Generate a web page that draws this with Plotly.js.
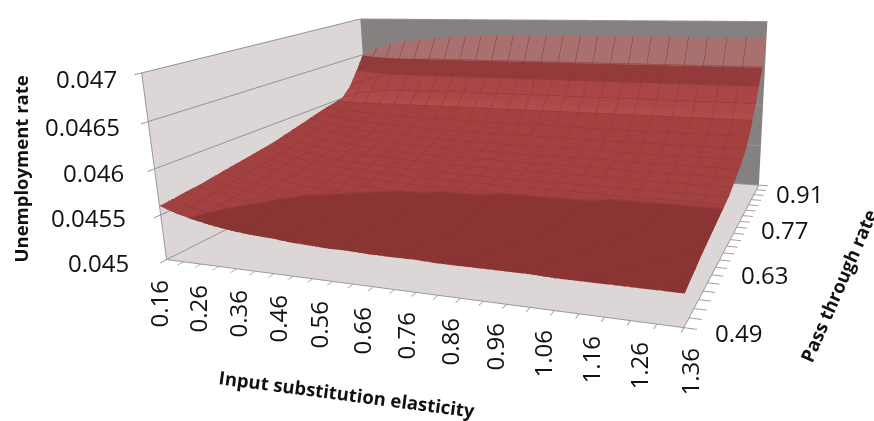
<!DOCTYPE html>
<html><head><meta charset="utf-8">
<script src="https://cdn.plot.ly/plotly-3.0.1.min.js"></script>
<style>html,body{margin:0;padding:0;background:#fff;overflow:hidden;width:874px;height:421px}#c{position:absolute;left:-411px;top:-202.5px;width:1706px;height:822px}</style></head>
<body><div id="c"></div>
<script>
const elasticity=[0.16,0.21,0.26,0.31,0.36,0.41,0.46,0.51,0.56,0.61,0.66,0.71,0.76,0.81,0.86,0.91,0.96,1.01,1.06,1.11,1.16,1.21,1.26,1.31,1.36];
const elasticityLabels=['0.16','0.26','0.36','0.46','0.56','0.66','0.76','0.86','0.96','1.06','1.16','1.26','1.36'];
const passThrough=[0.49,0.51,0.53,0.55,0.57,0.59,0.61,0.63,0.65,0.67,0.69,0.71,0.73,0.75,0.77,0.79,0.81,0.83,0.85,0.87,0.89,0.91];
const passLabels=['0.49','0.63','0.77','0.91'];
const zTicks=[0.045,0.0455,0.046,0.0465,0.047];
const zLabels=['0.045','0.0455','0.046','0.0465','0.047'];
const r049=[.0456,.04553,.04548,.04544,.04541,.04539,.04538,.04536,.04535,.04534,.04534,.04533,.04533,.04533,.04532,.04532,.04532,.04532,.04532,.04531,.04531,.04531,.04531,.04531,.04531];
const r051=[.04561,.04554,.0455,.04546,.04544,.04542,.0454,.04539,.04538,.04537,.04537,.04536,.04536,.04536,.04535,.04535,.04535,.04535,.04535,.04534,.04534,.04534,.04534,.04534,.04534];
const r053=[.04563,.04556,.04552,.04548,.04546,.04544,.04542,.04541,.0454,.04539,.04539,.04538,.04538,.04538,.04537,.04537,.04537,.04537,.04537,.04536,.04536,.04536,.04536,.04536,.04536];
const r055=[.04564,.04558,.04554,.04551,.04548,.04546,.04545,.04544,.04543,.04542,.04542,.04541,.04541,.04541,.0454,.0454,.0454,.0454,.0454,.04539,.04539,.04539,.04539,.04539,.04539];
const r057=[.04566,.0456,.04556,.04553,.0455,.04548,.04547,.04546,.04545,.04544,.04544,.04543,.04543,.04543,.04542,.04542,.04542,.04542,.04542,.04541,.04541,.04541,.04541,.04541,.04541];
const r059=[.04568,.04562,.04558,.04555,.04552,.0455,.04549,.04548,.04547,.04546,.04546,.04545,.04545,.04545,.04544,.04544,.04544,.04544,.04544,.04543,.04543,.04543,.04543,.04543,.04543];
const r061=[.0457,.04564,.0456,.04557,.04554,.04552,.04551,.0455,.04549,.04548,.04548,.04547,.04547,.04547,.04546,.04546,.04546,.04546,.04546,.04545,.04545,.04545,.04545,.04545,.04545];
const r063=[.04572,.04566,.04562,.04559,.04556,.04554,.04553,.04552,.04551,.0455,.0455,.04549,.04549,.04549,.04548,.04548,.04548,.04548,.04548,.04547,.04547,.04547,.04547,.04547,.04547];
const r065=[.04574,.04568,.04564,.04561,.04558,.04556,.04555,.04554,.04553,.04552,.04552,.04551,.04551,.04551,.0455,.0455,.0455,.0455,.0455,.04549,.04549,.04549,.04549,.04549,.04549];
const r067=[.04576,.0457,.04566,.04563,.0456,.04558,.04557,.04556,.04555,.04554,.04554,.04553,.04553,.04553,.04552,.04552,.04552,.04552,.04552,.04551,.04551,.04551,.04551,.04551,.04551];
const r069=[.04578,.04572,.04568,.04565,.04562,.0456,.04559,.04558,.04557,.04556,.04556,.04555,.04555,.04555,.04554,.04554,.04554,.04554,.04554,.04553,.04553,.04553,.04553,.04553,.04553];
const r071=[.04581,.04575,.04571,.04568,.04566,.04564,.04563,.04562,.04561,.0456,.04559,.04559,.04559,.04558,.04558,.04558,.04558,.04558,.04558,.04557,.04557,.04557,.04557,.04557,.04557];
const r073=[.04584,.04578,.04574,.04572,.04569,.04568,.04566,.04565,.04564,.04564,.04563,.04563,.04563,.04562,.04562,.04562,.04562,.04562,.04562,.04561,.04561,.04561,.04561,.04561,.04561];
const r075=[.04587,.04582,.04578,.04575,.04573,.04571,.0457,.04569,.04568,.04568,.04567,.04567,.04567,.04566,.04566,.04566,.04566,.04566,.04566,.04565,.04565,.04565,.04565,.04565,.04565];
const r077=[.0459,.04585,.04582,.04579,.04577,.04576,.04575,.04574,.04573,.04572,.04572,.04572,.04571,.04571,.04571,.04571,.04571,.0457,.0457,.0457,.0457,.0457,.0457,.0457,.0457];
const r079=[.04593,.04589,.04586,.04584,.04583,.04582,.04581,.0458,.04579,.04579,.04579,.04578,.04578,.04578,.04578,.04578,.04577,.04577,.04577,.04577,.04577,.04577,.04577,.04577,.04577];
const r081=[.04596,.04594,.04592,.04591,.0459,.04589,.04588,.04588,.04588,.04587,.04587,.04587,.04587,.04587,.04587,.04586,.04586,.04586,.04586,.04586,.04586,.04586,.04586,.04586,.04586];
const r083=[.04598,.04599,.04599,.04599,.046,.046,.046,.046,.046,.046,.046,.046,.046,.046,.046,.046,.046,.046,.046,.046,.046,.046,.046,.046,.046];
const r085=[.04601,.04608,.04611,.04613,.04614,.04614,.04615,.04615,.04615,.04615,.04615,.04615,.04615,.04615,.04615,.04615,.04615,.04615,.04615,.04615,.04615,.04615,.04615,.04615,.04615];
const r087=[.04612,.04622,.04628,.04631,.04633,.04634,.04635,.04635,.04635,.04635,.04635,.04635,.04635,.04635,.04635,.04635,.04635,.04635,.04635,.04635,.04635,.04635,.04635,.04635,.04635];
const r089=[.0463,.0464,.04645,.04648,.04649,.0465,.0465,.0465,.0465,.0465,.0465,.0465,.0465,.0465,.0465,.0465,.0465,.0465,.0465,.0465,.0465,.0465,.0465,.0465,.0465];
const r091=[.0465,.0466,.04666,.0467,.04673,.04675,.04677,.04678,.04679,.0468,.0468,.04681,.04681,.04681,.04681,.04681,.04681,.04681,.04681,.04681,.04681,.04681,.04681,.04681,.04681];
const rate=[r049,r051,r053,r055,r057,r059,r061,r063,r065,r067,r069,r071,r073,r075,r077,r079,r081,r083,r085,r087,r089,r091];

const bands=[[0,'#8a3434'],[.25,'#8a3434'],[.2501,'#a34141'],[.5,'#a34141'],[.5001,'#b34c4c'],[.58,'#ab4646'],[.66,'#a84545'],[.6601,'#933b3b'],[.75,'#933b3b'],[.7501,'#a97070'],[1,'#a97070']];
const tickFont={family:'"Open Sans",sans-serif',size:24,color:'#111'};
const axisBase={showgrid:false,zeroline:false,showline:true,linecolor:'#999',linewidth:2,ticks:'outside',tickcolor:'#999',ticklen:8,tickwidth:2,showspikes:false,showbackground:true,showticklabels:false,title:{text:''}};
const titleFont={family:'"Open Sans",sans-serif',size:18.5,color:'#111',weight:700};
const W=1706,H=822,OX=411,OY=202.5;
const px=x=>(x+OX)/W, py=y=>1-(y+OY)/H;
const note=(text,x,y,extra)=>Object.assign({text:text,xref:'paper',yref:'paper',x:px(x),y:py(y),xanchor:'center',yanchor:'middle',showarrow:false,font:tickFont},extra||{});
const xSpots=[[158,304],[197,309],[237,314],[277,319],[318,325],[361,331],[405,336],[449,342],[494,347],[542,353],[590,360],[638,366],[689,372]];
const ySpots=[[738,332],[764,274],[784,229],[799,193]];
const zSpots=[[131,262],[128,217],[126,172],[122,126],[119,78]];
const notes=[];
elasticityLabels.forEach((t,i)=>notes.push(note(t,xSpots[i][0],xSpots[i][1],{textangle:-90})));
passLabels.forEach((t,i)=>notes.push(note(t,ySpots[i][0],ySpots[i][1])));
zLabels.forEach((t,i)=>notes.push(note(t,zSpots[i][0],zSpots[i][1],{xanchor:'right'})));
notes.push(note('Unemployment rate',20,168,{textangle:-90,font:titleFont}));
notes.push(note('Input substitution elasticity',347,393,{textangle:7.5,font:titleFont}));
notes.push(note('Pass through rate',838,285,{textangle:-66.5,font:titleFont}));
Plotly.newPlot('c',[{type:'surface',x:elasticity,y:passThrough,z:rate,colorscale:bands,cmin:0.045,cmax:0.047,showscale:false,hoverinfo:'skip',
 lighting:{ambient:1,diffuse:0,specular:0,roughness:1,fresnel:0},
 contours:{x:{show:true,start:0.16,end:1.36,size:0.05,color:'#8f3636',width:1},y:{show:true,start:0.49,end:0.91,size:0.02,color:'#8f3636',width:1},z:{show:false}}}],
{width:W,height:H,margin:{l:0,r:0,t:0,b:0},paper_bgcolor:'rgba(0,0,0,0)',showlegend:false,
 scene:{domain:{x:[0,1],y:[0,1]},aspectmode:'manual',aspectratio:{x:2.01,y:1.665,z:0.735},
  camera:{eye:{x:1.549,y:-3.687,z:0.917},center:{x:-0.123,y:-0.155,z:-0.285},up:{x:-0.0837,y:0.285,z:0.955},projection:{type:'perspective'}},
  xaxis:Object.assign({},axisBase,{range:[0.16,1.36],tickmode:'array',tickvals:elasticity,backgroundcolor:'#ddd6d6'}),
  yaxis:Object.assign({},axisBase,{range:[0.49,0.91],tickmode:'array',tickvals:passThrough,backgroundcolor:'#858180'}),
  zaxis:Object.assign({},axisBase,{range:[0.045,0.047],tickmode:'array',tickvals:zTicks,showgrid:true,gridcolor:'#949494',gridwidth:2,backgroundcolor:'#ddd6d6'})},
 annotations:notes},{displayModeBar:false});
</script></body></html>
